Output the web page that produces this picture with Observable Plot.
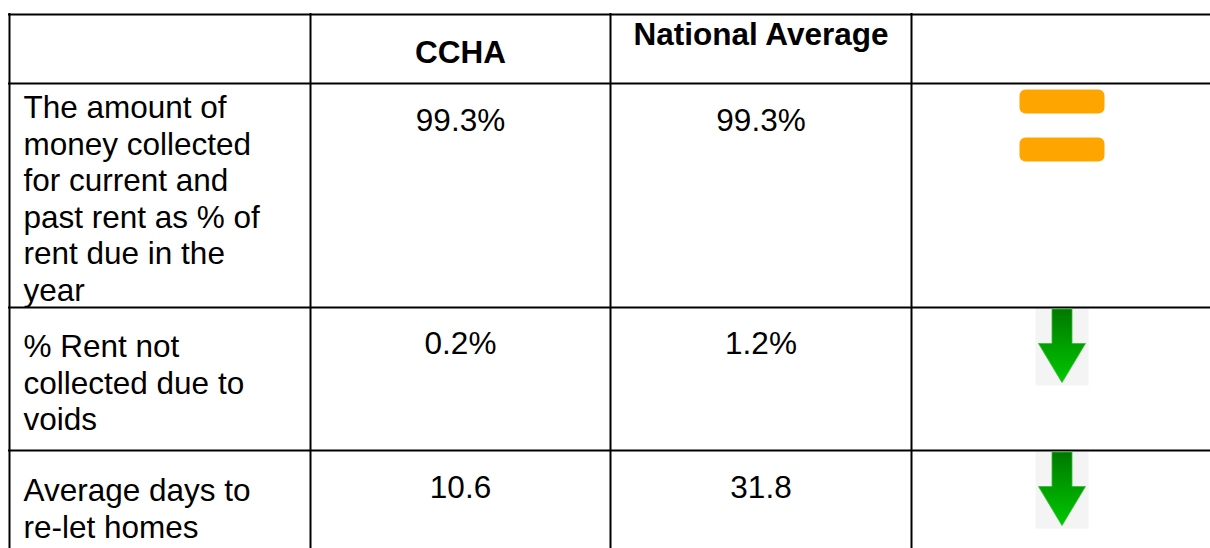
<!DOCTYPE html>
<html>
<head>
<meta charset="utf-8">
<script src="https://cdn.jsdelivr.net/npm/d3@7"></script>
<script src="https://cdn.jsdelivr.net/npm/@observablehq/plot@0.6"></script>
<style>
  html, body { margin: 0; padding: 0; background: #fff; }
  svg { display: block; }
</style>
</head>
<body>
<div id="chart"></div>
<script>
// ---- data ----
const headers = ["", "CCHA", "National Average", ""];
const measures = [
  "The amount of\nmoney collected\nfor current and\npast rent as % of\nrent due in the\nyear",
  "% Rent not\ncollected due to\nvoids",
  "Average days to\nre-let homes"
];
const cchaValues = ["99.3%", "0.2%", "10.6"];
const nationalValues = ["99.3%", "1.2%", "31.8"];
const trends = ["equal", "down", "down"];

// ---- layout (table grid) ----
const W = 1210, H = 548;
const colEdges = [9, 310, 610, 911, 1213];
const rowEdges = [14, 83, 307, 450, 594];
const fs = 31.5, lh = 1.16, capDy = 0.71 * fs;
const colCenter = i => (colEdges[i] + colEdges[i + 1]) / 2;
const labelBaseline = [31, 46, 47];   // baseline offset from row top
const valueBaseline = [47, 46, 47];
const headerBaseline = [0, 48, 30];

const rows = measures.map((m, i) => ({
  measure: m,
  ccha: cchaValues[i],
  national: nationalValues[i],
  trend: trends[i],
  top: rowEdges[i + 1]
}));

const headerData = headers.map((h, i) => ({label: h, col: i})).filter(d => d.label);

// ---- symbols ----
function roundRect(ctx, x, y, w, h, r) {
  ctx.moveTo(x + r, y);
  ctx.lineTo(x + w - r, y);
  ctx.arcTo(x + w, y, x + w, y + r, r);
  ctx.lineTo(x + w, y + h - r);
  ctx.arcTo(x + w, y + h, x + w - r, y + h, r);
  ctx.lineTo(x + r, y + h);
  ctx.arcTo(x, y + h, x, y + h - r, r);
  ctx.lineTo(x, y + r);
  ctx.arcTo(x, y, x + r, y, r);
  ctx.closePath();
}
const equalSymbol = {draw(ctx) { roundRect(ctx, -42.5, -36, 85, 24, 6); roundRect(ctx, -42.5, 12, 85, 24, 6); }};
const patchSymbol = {draw(ctx) { ctx.rect(-50.5, -40.5, 99, 85); }};
const boxSymbol = {draw(ctx) { ctx.rect(-26.5, -38.5, 53, 77.5); }};
const arrowSymbol = {draw(ctx) {
  ctx.moveTo(-10, -37.5); ctx.lineTo(10, -37.5); ctx.lineTo(10, -3);
  ctx.lineTo(23.5, -3); ctx.lineTo(0, 36); ctx.lineTo(-23.5, -3);
  ctx.lineTo(-10, -3); ctx.closePath();
}};

const eqRows = rows.filter(d => d.trend === "equal");
const downRows = rows.filter(d => d.trend === "down");
const font = "Liberation Sans, Arial, Helvetica, sans-serif";
const trendX = colCenter(3) - 0.5;

const chart = Plot.plot({
  width: W,
  height: H,
  margin: 0,
  x: {type: "identity", axis: null},
  y: {type: "identity", axis: null},
  marks: [
    // gray backgrounds of arrow images
    Plot.dot(downRows, {x: () => trendX, y: d => d.top + 39, symbol: boxSymbol, fill: "#f4f4f4"}),
    // grid lines
    Plot.ruleY(rowEdges.slice(0, 4), {x1: colEdges[0] - 1, x2: W + 5, stroke: "#000", strokeWidth: 2}),
    Plot.ruleX(colEdges.slice(0, 4), {y1: rowEdges[0] - 1, y2: H + 5, stroke: "#000", strokeWidth: 2}),
    // header
    Plot.text(headerData, {
      x: d => colCenter(d.col), y: d => rowEdges[0] + headerBaseline[d.col] - capDy,
      text: "label", fontSize: fs, fontWeight: "bold", fontFamily: font,
      textAnchor: "middle", lineAnchor: "top", fill: "#000"
    }),
    // measure labels
    Plot.text(rows, {
      x: () => colEdges[0] + 14, y: (d, i) => d.top + labelBaseline[rows.indexOf(d)] - capDy,
      text: "measure", fontSize: fs, fontFamily: font, lineHeight: lh,
      textAnchor: "start", lineAnchor: "top", fill: "#000"
    }),
    // CCHA values
    Plot.text(rows, {
      x: () => colCenter(1), y: d => d.top + valueBaseline[rows.indexOf(d)] - capDy,
      text: "ccha", fontSize: fs, fontFamily: font,
      textAnchor: "middle", lineAnchor: "top", fill: "#000"
    }),
    // National values
    Plot.text(rows, {
      x: () => colCenter(2), y: d => d.top + valueBaseline[rows.indexOf(d)] - capDy,
      text: "national", fontSize: fs, fontFamily: font,
      textAnchor: "middle", lineAnchor: "top", fill: "#000"
    }),
    // equal icon (with its white image background over the border)
    Plot.dot(eqRows, {x: () => trendX, y: d => d.top + 42, symbol: patchSymbol, fill: "#fff"}),
    Plot.dot(eqRows, {x: () => trendX, y: d => d.top + 42, symbol: equalSymbol, fill: "#ffa500"}),
    // down arrows
    Plot.dot(downRows, {x: () => trendX, y: d => d.top + 39, symbol: arrowSymbol, fill: "url(#arrowGrad)", stroke: "#33bb33", strokeWidth: 0.8})
  ]
});

const defs = d3.select(chart).insert("defs", ":first-child");
const grad = defs.append("linearGradient").attr("id", "arrowGrad")
  .attr("x1", 0).attr("y1", 0).attr("x2", 0).attr("y2", 1);
grad.append("stop").attr("offset", "0%").attr("stop-color", "#007800");
grad.append("stop").attr("offset", "100%").attr("stop-color", "#00c800");

document.getElementById("chart").appendChild(chart);
</script>
</body>
</html>
